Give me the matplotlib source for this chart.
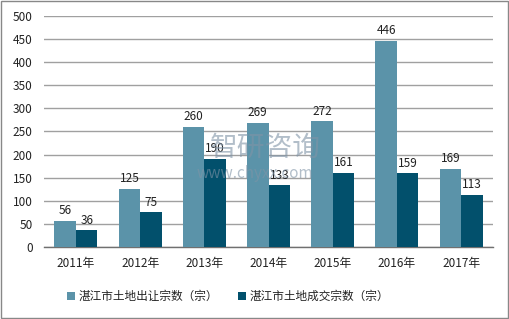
import matplotlib
matplotlib.use("Agg")
import matplotlib.pyplot as plt
import numpy as np
from matplotlib.patches import Rectangle

plt.rcParams['font.family'] = ['Noto Sans CJK SC', 'DejaVu Sans']

years = ["2011年", "2012年", "2013年", "2014年", "2015年", "2016年", "2017年"]
transfer = [56, 125, 260, 269, 272, 446, 169]
deal = [36, 75, 190, 133, 161, 159, 113]
series_names = ["湛江市土地出让宗数（宗）", "湛江市土地成交宗数（宗）"]

c_light = "#5B93A9"
c_dark = "#02506C"

fig = plt.figure(figsize=(5.10, 3.19), dpi=100)
ax = fig.add_axes([0.086, 0.226, 0.881, 0.724])

x = np.arange(len(years))
w = 0.335
b1 = ax.bar(x - w/2, transfer, w, color=c_light, label=series_names[0], zorder=3)
b2 = ax.bar(x + w/2, deal, w, color=c_dark, label=series_names[1], zorder=3)

for rect, v in zip(b1, transfer):
    ax.text(rect.get_x() + rect.get_width()/2, v + 8, str(v), ha='center', va='bottom',
            fontsize=8.5, color='#222222', zorder=4)
for rect, v in zip(b2, deal):
    ax.text(rect.get_x() + rect.get_width()/2, v + 8, str(v), ha='center', va='bottom',
            fontsize=8.5, color='#222222', zorder=4)

ax.set_ylim(0, 500)
ax.set_yticks(range(0, 501, 50))
ax.set_xlim(-0.5, len(years) - 0.5)
ax.set_xticks(x)
ax.set_xticklabels(years, fontsize=8.5, color='#222222')
ax.tick_params(axis='y', labelsize=8.5, colors='#222222', length=0, pad=8)
ax.tick_params(axis='x', length=0, pad=7)
ax.yaxis.grid(True, color='#A0A0A0', linewidth=1.0, zorder=0)
ax.set_axisbelow(True)
for s in ['top', 'right', 'left']:
    ax.spines[s].set_visible(False)
ax.spines['bottom'].set_color('#707070')
ax.spines['bottom'].set_linewidth(1.0)

leg = fig.legend(handles=[b1, b2], labels=series_names, loc='center',
                 bbox_to_anchor=(0.447, 0.07), ncol=2, frameon=False,
                 fontsize=8.4, handlelength=0.7, handleheight=0.7,
                 handletextpad=0.3, columnspacing=1.7)
for t in leg.get_texts():
    t.set_color('#222222')

# watermark
fig.text(0.52, 0.535, "智研咨询", fontsize=20, color='#7F93A6', alpha=0.6,
         ha='center', va='center', zorder=10)
fig.text(0.5, 0.455, "www.chyxx.com", fontsize=11, color='#7F93A6', alpha=0.6,
         ha='center', va='center', zorder=10)

fig.patches.append(Rectangle((0.002, 0.003), 0.994, 0.994, transform=fig.transFigure,
                             fill=False, edgecolor='#888888', linewidth=1.0))

fig.savefig("out.png", dpi=100)
